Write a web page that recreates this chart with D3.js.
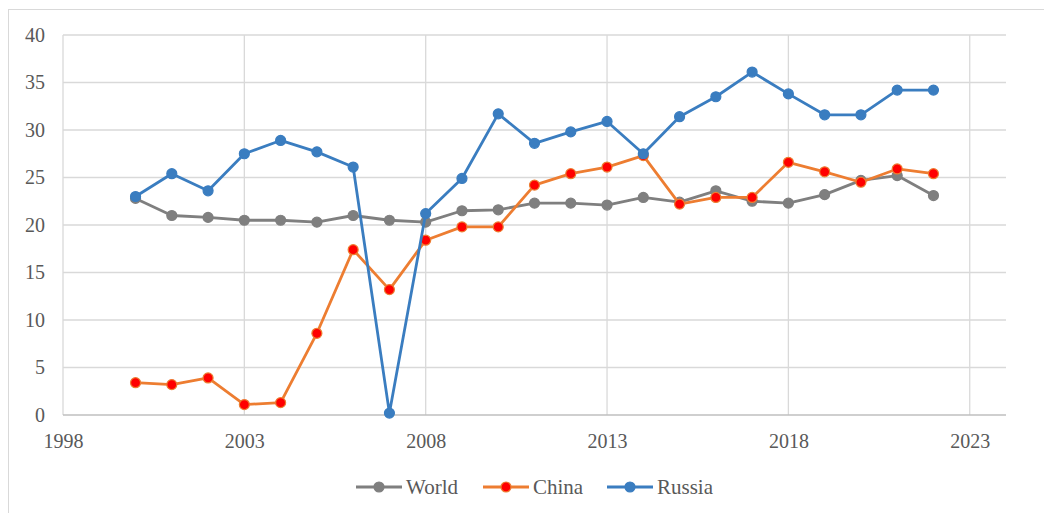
<!DOCTYPE html>
<html>
<head>
<meta charset="utf-8">
<script src="https://cdn.jsdelivr.net/npm/d3@7"></script>
<style>
  body { margin: 0; background: #fff; }
  svg { display: block; }
  svg text { font-family: "Liberation Serif", "Times New Roman", Times, "DejaVu Serif", serif !important; }
</style>
</head>
<body>
<div id="chart"></div>
<script>
// Data
const years = [2000, 2001, 2002, 2003, 2004, 2005, 2006, 2007, 2008, 2009, 2010, 2011,
               2012, 2013, 2014, 2015, 2016, 2017, 2018, 2019, 2020, 2021, 2022];
const world = [22.8, 21.0, 20.8, 20.5, 20.5, 20.3, 21.0, 20.5, 20.3, 21.5, 21.6, 22.3,
               22.3, 22.1, 22.9, 22.4, 23.6, 22.5, 22.3, 23.2, 24.7, 25.2, 23.1];
const china = [3.4, 3.2, 3.9, 1.1, 1.3, 8.6, 17.4, 13.2, 18.4, 19.8, 19.8, 24.2,
               25.4, 26.1, 27.3, 22.2, 22.9, 22.9, 26.6, 25.6, 24.5, 25.9, 25.4];
const russia = [23.0, 25.4, 23.6, 27.5, 28.9, 27.7, 26.1, 0.2, 21.2, 24.9, 31.7, 28.6,
                29.8, 30.9, 27.5, 31.4, 33.5, 36.1, 33.8, 31.6, 31.6, 34.2, 34.2];
const xTicks = [1998, 2003, 2008, 2013, 2018, 2023];
const yTicks = [0, 5, 10, 15, 20, 25, 30, 35, 40];

const series = [
    { name: "World", values: world, line: "#7f7f7f", fill: "#7f7f7f" },
    { name: "China", values: china, line: "#ed7d31", fill: "#ff0000" },
    { name: "Russia", values: russia, line: "#3a7dc0", fill: "#3a7dc0" }
];

let width = 1044,
    height = 513;

let margin = { top: 35, right: 38, bottom: 98, left: 63 };
let innerW = width - margin.left - margin.right,
    innerH = height - margin.top - margin.bottom;

let root = d3.select("#chart")
    .append("svg")
    .attr("width", width)
    .attr("height", height);

// chart border
root.append("rect")
    .attr("x", 8.5)
    .attr("y", 9.5)
    .attr("width", width + 10)
    .attr("height", height + 10)
    .attr("fill", "none")
    .attr("stroke", "#d9d9d9");

let svg = root.append("g")
    .attr("transform", `translate(${margin.left},${margin.top})`);

let x = d3.scaleLinear().domain([1998, 2024]).range([0, innerW]);
let y = d3.scaleLinear().domain([0, 40]).range([innerH, 0]);

// Gridlines
svg.append("g")
    .selectAll("line.h")
    .data(yTicks.filter(d => d > 0))
    .enter().append("line")
    .attr("x1", 0).attr("x2", innerW)
    .attr("y1", d => y(d)).attr("y2", d => y(d))
    .attr("stroke", "#d9d9d9")
    .attr("stroke-width", 1.3);

svg.append("g")
    .selectAll("line.v")
    .data(xTicks)
    .enter().append("line")
    .attr("x1", d => x(d)).attr("x2", d => x(d))
    .attr("y1", 0).attr("y2", innerH)
    .attr("stroke", "#d9d9d9")
    .attr("stroke-width", 1.3);

// bottom axis line
svg.append("line")
    .attr("x1", 0).attr("x2", innerW)
    .attr("y1", innerH).attr("y2", innerH)
    .attr("stroke", "#bfbfbf")
    .attr("stroke-width", 1.3);

// Axes
let xAxis = svg.append("g")
    .attr("transform", `translate(0,${innerH})`)
    .call(d3.axisBottom(x).tickValues(xTicks).tickFormat(d3.format("d")).tickSize(0).tickPadding(19));
let yAxis = svg.append("g")
    .call(d3.axisLeft(y).tickValues(yTicks).tickSize(0).tickPadding(18));

[xAxis, yAxis].forEach(a => {
    a.attr("font-family", null);
    a.select(".domain").remove();
    a.selectAll("text")
        .attr("fill", "#595959")
        .style("font-size", "20px");
});

// Lines and markers
let line = d3.line()
    .x((d, i) => x(years[i]))
    .y(d => y(d));

series.forEach(s => {
    svg.append("path")
        .datum(s.values)
        .attr("fill", "none")
        .attr("stroke", s.line)
        .attr("stroke-width", 2.8)
        .attr("stroke-linejoin", "round")
        .attr("d", line);

    svg.append("g")
        .selectAll("circle")
        .data(s.values)
        .enter().append("circle")
        .attr("cx", (d, i) => x(years[i]))
        .attr("cy", d => y(d))
        .attr("r", 5)
        .attr("fill", s.fill)
        .attr("stroke", s.line)
        .attr("stroke-width", 1.2);
});

// Legend
const legendX = [356, 483, 607];
let legend = root.append("g");
series.forEach((s, i) => {
    let g = legend.append("g").attr("transform", `translate(${legendX[i]},487)`);
    g.append("line")
        .attr("x1", 0).attr("x2", 46)
        .attr("y1", 0).attr("y2", 0)
        .attr("stroke", s.line)
        .attr("stroke-width", 2.8);
    g.append("circle")
        .attr("cx", 23).attr("cy", 0).attr("r", 5)
        .attr("fill", s.fill)
        .attr("stroke", s.line)
        .attr("stroke-width", 1.2);
    g.append("text")
        .attr("x", 50)
        .attr("y", 0)
        .attr("dy", "0.35em")
        .attr("fill", "#595959")
        .style("font-size", "21px")
        .text(s.name);
});
</script>
</body>
</html>
